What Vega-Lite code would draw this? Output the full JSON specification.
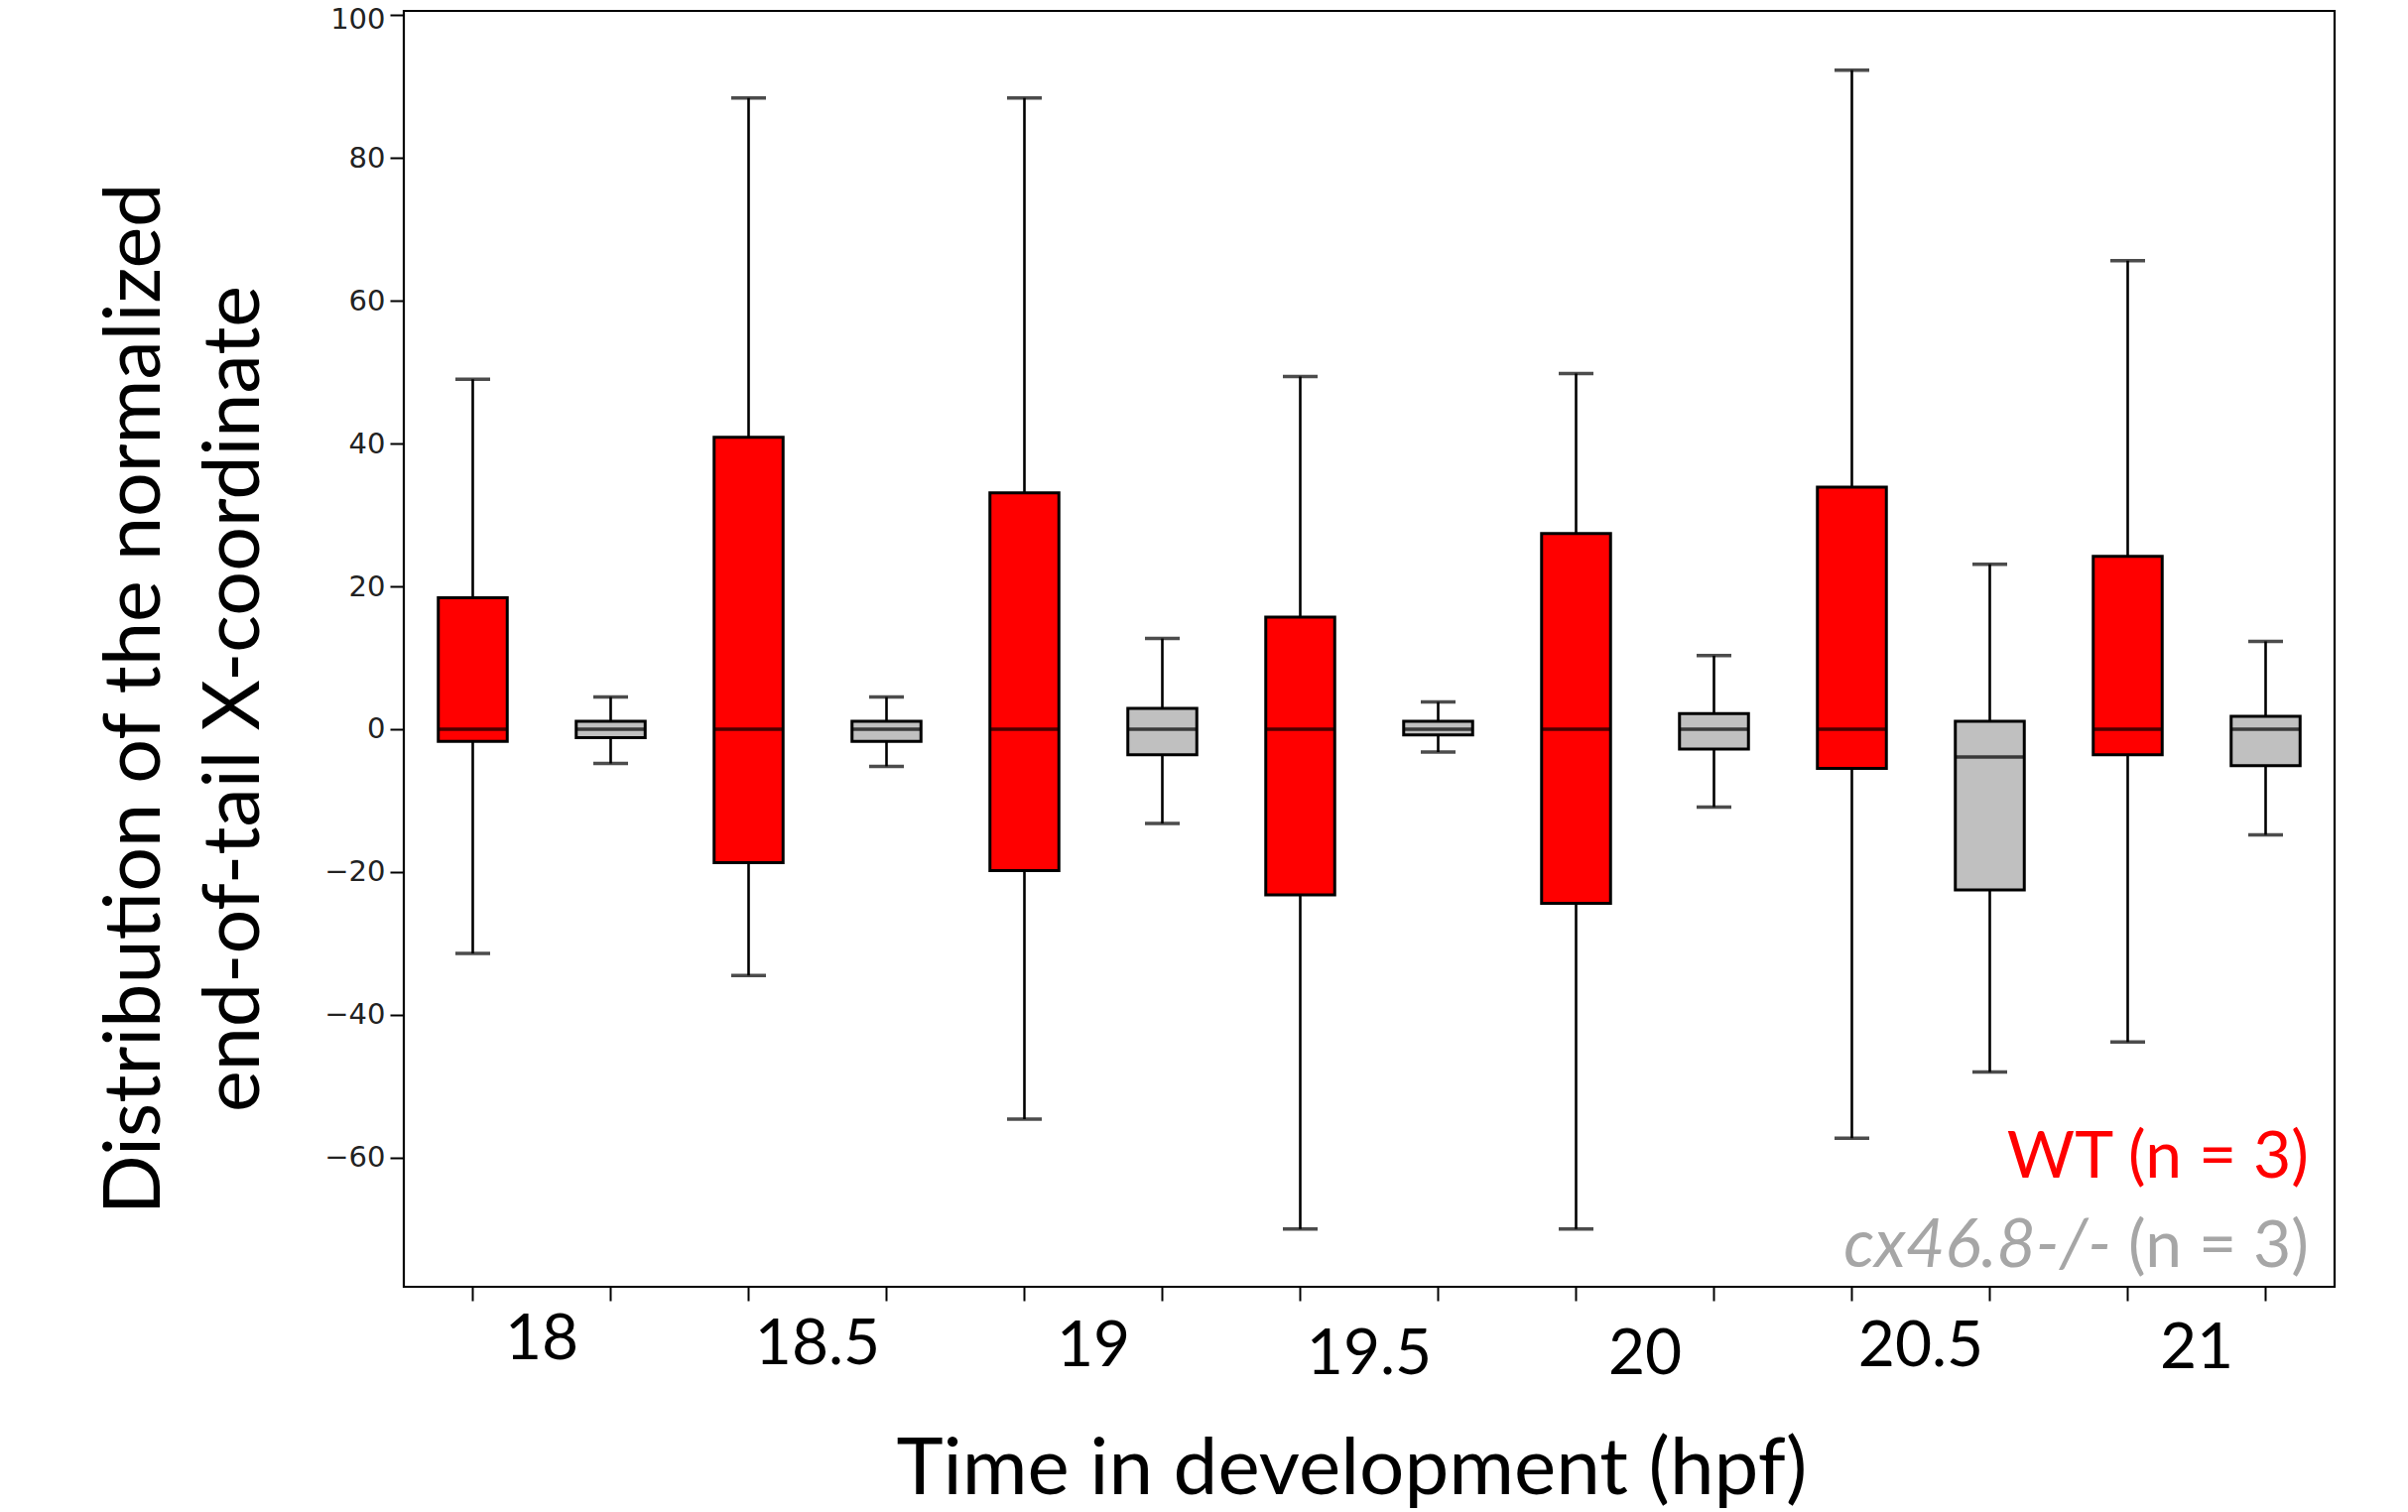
{
  "$schema": "https://vega.github.io/schema/vega-lite/v6.json",
  "width": 1946,
  "height": 1286,
  "autosize": {"type": "none"},
  "padding": {"left": 407, "top": 11, "right": 74, "bottom": 227},
  "background": "white",
  "config": {"view": {"stroke": "black", "strokeWidth": 2.2}},
  "datasets": {
    "boxes": [
      {"time": "18", "genotype": "WT", "lower": -31.4, "q1": -1.7, "median": 0, "q3": 18.4, "upper": 49.0},
      {"time": "18", "genotype": "cx46.8-/-", "lower": -4.8, "q1": -1.2, "median": 0, "q3": 1.1, "upper": 4.5},
      {"time": "18.5", "genotype": "WT", "lower": -34.5, "q1": -18.7, "median": 0, "q3": 40.9, "upper": 88.4},
      {"time": "18.5", "genotype": "cx46.8-/-", "lower": -5.2, "q1": -1.7, "median": 0, "q3": 1.1, "upper": 4.5},
      {"time": "19", "genotype": "WT", "lower": -54.6, "q1": -19.8, "median": 0, "q3": 33.1, "upper": 88.4},
      {"time": "19", "genotype": "cx46.8-/-", "lower": -13.2, "q1": -3.6, "median": 0, "q3": 2.9, "upper": 12.7},
      {"time": "19.5", "genotype": "WT", "lower": -70.0, "q1": -23.2, "median": 0, "q3": 15.7, "upper": 49.4},
      {"time": "19.5", "genotype": "cx46.8-/-", "lower": -3.2, "q1": -0.8, "median": 0, "q3": 1.1, "upper": 3.8},
      {"time": "20", "genotype": "WT", "lower": -70.0, "q1": -24.4, "median": 0, "q3": 27.4, "upper": 49.8},
      {"time": "20", "genotype": "cx46.8-/-", "lower": -10.9, "q1": -2.8, "median": 0, "q3": 2.2, "upper": 10.3},
      {"time": "20.5", "genotype": "WT", "lower": -57.3, "q1": -5.5, "median": 0, "q3": 33.9, "upper": 92.3},
      {"time": "20.5", "genotype": "cx46.8-/-", "lower": -48.0, "q1": -22.5, "median": -3.9, "q3": 1.1, "upper": 23.1},
      {"time": "21", "genotype": "WT", "lower": -43.8, "q1": -3.6, "median": 0, "q3": 24.2, "upper": 65.6},
      {"time": "21", "genotype": "cx46.8-/-", "lower": -14.8, "q1": -5.1, "median": 0, "q3": 1.8, "upper": 12.3}
    ]
  },
  "layer": [
    {
      "data": {"name": "boxes"},
      "transform": [{"calculate": "datum.time + ' ' + datum.genotype", "as": "slot"}],
      "layer": [
        {
          "mark": {"type": "rule", "color": "black", "strokeWidth": 2.6},
          "encoding": {
            "x": {
              "field": "slot", "type": "nominal",
              "scale": {
                "domain": ["18 WT", "18 cx46.8-/-", "18.5 WT", "18.5 cx46.8-/-", "19 WT", "19 cx46.8-/-", "19.5 WT", "19.5 cx46.8-/-", "20 WT", "20 cx46.8-/-", "20.5 WT", "20.5 cx46.8-/-", "21 WT", "21 cx46.8-/-"],
                "paddingInner": 0, "paddingOuter": 0
              },
              "axis": {
                "title": "Time in development (hpf)",
                "titleFont": "Lato", "titleFontSize": 80, "titleFontWeight": "normal", "titleColor": "black",
                "titleX": 955, "titleY": 208, "titleBaseline": "alphabetic", "titleAlign": "center",
                "labelExpr": "indexof(datum.value, 'WT') >= 0 ? split(datum.value, ' ')[0] : ''",
                "labelFont": "Lato", "labelFontSize": 64, "labelColor": "black",
                "labelOffset": 69.5,
                "labelPadding": {
                  "condition": [
                    {"test": "datum.value == '18 WT'", "value": 7},
                    {"test": "datum.value == '18.5 WT'", "value": 12},
                    {"test": "datum.value == '19.5 WT' || datum.value == '20 WT'", "value": 22},
                    {"test": "datum.value == '21 WT'", "value": 16}
                  ],
                  "value": 14
                },
                "labelOverlap": false, "labelBound": false, "labelFlush": false, "labelAngle": 0,
                "tickSize": 14, "tickWidth": 2, "tickColor": "black", "domain": false, "grid": false
              }
            },
            "y": {
              "field": "lower", "type": "quantitative",
              "scale": {"domain": [-78.1, 100.6], "nice": false, "zero": false},
              "axis": {
                "title": ["Distribution of the normalized", "end-of-tail X-coordinate"],
                "titleFont": "Lato", "titleFontSize": 79, "titleFontWeight": "normal", "titleColor": "black",
                "titleLineHeight": 100, "titleX": -271, "titleY": 693, "titleAngle": -90,
                "titleBaseline": "middle", "titleAlign": "center",
                "values": [-60, -40, -20, 0, 20, 40, 60, 80, 100], "format": "d",
                "labelFont": "DejaVu Sans", "labelFontSize": 29, "labelColor": "#222", "labelPadding": 5,
                "labelOffset": {"condition": {"test": "datum.value == 100", "value": 4}, "value": 0},
                "tickSize": 14, "tickWidth": 2, "tickColor": "black", "domain": false, "grid": false
              }
            },
            "y2": {"field": "upper"}
          }
        },
        {
          "mark": {"type": "bar", "width": {"band": 0.5}, "stroke": "black", "strokeWidth": 3},
          "encoding": {
            "x": {"field": "slot", "type": "nominal"},
            "y": {"field": "q1", "type": "quantitative"},
            "y2": {"field": "q3"},
            "fill": {
              "field": "genotype", "type": "nominal",
              "scale": {"domain": ["WT", "cx46.8-/-"], "range": ["#ff0000", "#c0c0c0"]},
              "legend": null
            }
          }
        },
        {
          "mark": {"type": "tick", "color": "black", "size": 69.5, "thickness": 3.5},
          "encoding": {
            "x": {"field": "slot", "type": "nominal"},
            "y": {"field": "median", "type": "quantitative"}
          }
        },
        {
          "mark": {"type": "tick", "color": "black", "size": 35, "thickness": 3.5},
          "encoding": {
            "x": {"field": "slot", "type": "nominal"},
            "y": {"field": "lower", "type": "quantitative"}
          }
        },
        {
          "mark": {"type": "tick", "color": "black", "size": 35, "thickness": 3.5},
          "encoding": {
            "x": {"field": "slot", "type": "nominal"},
            "y": {"field": "upper", "type": "quantitative"}
          }
        }
      ]
    },
    {
      "data": {"values": [{}]},
      "mark": {"type": "text", "align": "right", "baseline": "alphabetic", "dx": 43.5, "font": "Lato", "fontSize": 66, "color": "#ff0000", "text": "WT (n = 3)"},
      "encoding": {
        "x": {"datum": "21 cx46.8-/-", "type": "nominal"},
        "y": {"datum": -62.8, "type": "quantitative"}
      }
    },
    {
      "data": {"values": [{}]},
      "mark": {"type": "text", "align": "right", "baseline": "alphabetic", "dx": 43.5, "font": "Lato", "fontSize": 66, "color": "#a6a6a6", "text": "(n = 3)"},
      "encoding": {
        "x": {"datum": "21 cx46.8-/-", "type": "nominal"},
        "y": {"datum": -75.3, "type": "quantitative"}
      }
    },
    {
      "data": {"values": [{}]},
      "mark": {"type": "text", "align": "right", "baseline": "alphabetic", "dx": -155.5, "font": "Lato", "fontSize": 68, "fontStyle": "italic", "color": "#a6a6a6", "text": "cx46.8-/-"},
      "encoding": {
        "x": {"datum": "21 cx46.8-/-", "type": "nominal"},
        "y": {"datum": -75.3, "type": "quantitative"}
      }
    }
  ]
}
